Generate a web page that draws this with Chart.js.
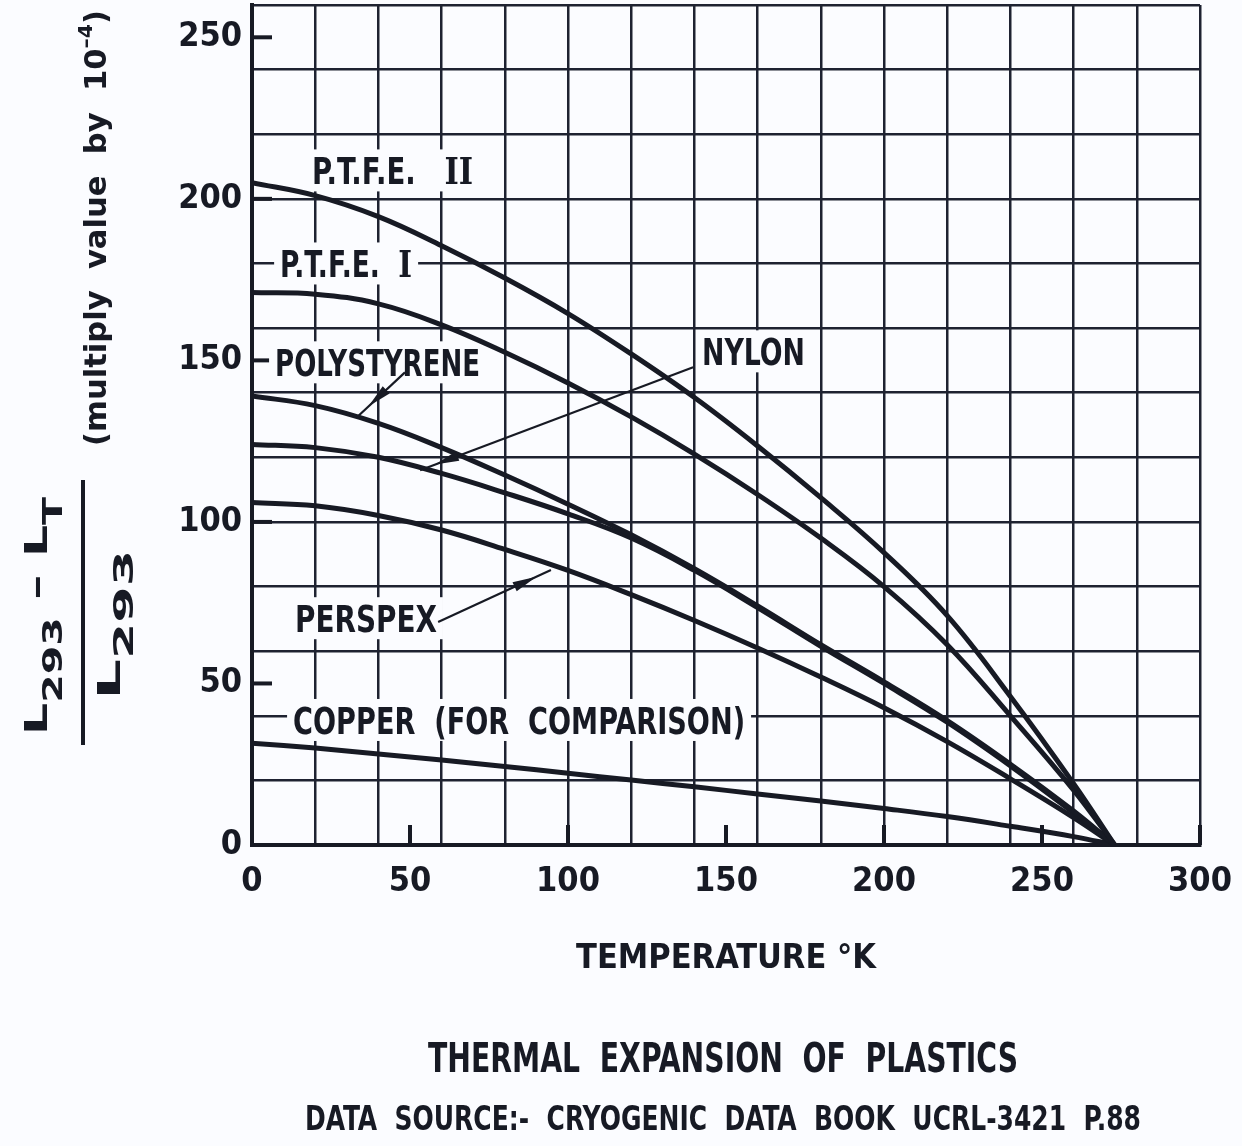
<!DOCTYPE html>
<html>
<head>
<meta charset="utf-8">
<script src="https://cdn.jsdelivr.net/npm/chart.js@4.4.1/dist/chart.umd.min.js"></script>
<style>
    html, body { margin: 0; padding: 0; background: #fbfcff; }
    canvas { display: block; }
</style>
</head>
<body>
<canvas id="graficoExpansao" width="1242" height="1146"></canvas>
<script>
// temperaturas (K) onde as curvas foram lidas
const temperaturas = [0, 20, 40, 60, 80, 100, 120, 140, 160, 180, 200, 220, 240, 260, 273];
// (L293 - LT) / L293, x 10^-4
const ptfe2 = [205, 201, 194.5, 185.5, 175.5, 164.5, 152, 138.5, 123.5, 107.5, 90.5, 71, 46, 19, 0];
const ptfe1 = [171, 170.5, 167.5, 161, 152.5, 143, 132.5, 121, 108.5, 95, 80, 62, 40, 17, 0];
const poliestireno = [139, 136, 130.5, 123, 114.5, 105.5, 96, 85.5, 74, 62, 50.5, 38.5, 25, 10.5, 0];
const nylon = [124, 123, 120, 115, 109, 102.5, 95, 85, 73.5, 61.5, 50, 38, 24.5, 10, 0];
const perspex = [106, 105, 102, 97.5, 91.5, 85, 77.5, 69.5, 61, 52, 42.5, 32, 20.5, 8.5, 0];
const cobre = [31.5, 30, 28.2, 26.3, 24.3, 22.2, 20.1, 18, 15.8, 13.6, 11.3, 8.8, 5.8, 2.6, 0];

const xRotulos = [0, 50, 100, 150, 200, 250, 300];
const yRotulos = [0, 50, 100, 150, 200, 250];

const FONTE = '"DejaVu Sans Condensed", "DejaVu Sans", sans-serif';
const SERIF = '"DejaVu Serif", "Liberation Serif", serif';
const TINTA = '#171a24';
const GRADE = '#1e2231';
const FUNDO = '#fbfcff';

// textos das curvas (posição em coordenadas do gráfico: t, valor no centro da letra)
const notas = [
    { partes: [{ txt: 'P.T.F.E.   ' }, { txt: 'II', serif: true }], t: 19, v: 208.8, largura: 161 },
    { partes: [{ txt: 'P.T.F.E.  ' }, { txt: 'I', serif: true }], t: 8.9, v: 180, largura: 132 },
    { partes: [{ txt: 'POLYSTYRENE' }], t: 7.3, v: 149.4, largura: 205 },
    { partes: [{ txt: 'NYLON' }], t: 142.4, v: 152.8, largura: 103 },
    { partes: [{ txt: 'PERSPEX' }], t: 13.6, v: 70.2, largura: 142 },
    { partes: [{ txt: 'COPPER  (FOR  COMPARISON)' }], t: 13, v: 38.7, largura: 452 }
];

// setas das notas: de -> para
const setas = [
    { de: [48.4, 146.3], para: [33.2, 132.4] },
    { de: [139.6, 147.9], para: [53.2, 116.0] },
    { de: [58.9, 69.0], para: [94.6, 85.1] }
];

function marcas(max, passo, rotulos) {
    const v = new Set(rotulos);
    for (let i = 0; i <= max; i += passo) v.add(i);
    return [...v].sort((a, b) => a - b).map(value => ({ value }));
}

function desenhaTrechos(ctx, trechos, x, y, largura, girar) {
    let total = 0;
    trechos.forEach(t => {
        ctx.font = 'bold ' + (t.tam || 38) + 'px ' + (t.serif ? SERIF : FONTE);
        t.w = ctx.measureText(t.txt).width;
        total += t.w;
    });
    ctx.save();
    ctx.translate(x, y);
    if (girar) ctx.rotate(-Math.PI / 2);
    ctx.scale(largura / total, 1);
    let pos = 0;
    trechos.forEach(t => {
        ctx.font = 'bold ' + (t.tam || 38) + 'px ' + (t.serif ? SERIF : FONTE);
        ctx.fillText(t.txt, pos, t.dy || 0);
        pos += t.w;
    });
    ctx.restore();
}

const anotacoes = {
    id: 'anotacoes',
    beforeDatasetsDraw(chart) {
        const { ctx, chartArea, scales: { x, y } } = chart;
        ctx.save();
        ctx.fillStyle = TINTA;
        ctx.strokeStyle = TINTA;
        ctx.textBaseline = 'alphabetic';

        // marcas curtas para dentro
        ctx.lineWidth = 4;
        yRotulos.slice(1).forEach(v => {
            const py = y.getPixelForValue(v);
            ctx.beginPath();
            ctx.moveTo(chartArea.left, py);
            ctx.lineTo(chartArea.left + 20, py);
            ctx.stroke();
        });
        xRotulos.slice(1).forEach(v => {
            const px = x.getPixelForValue(v);
            ctx.beginPath();
            ctx.moveTo(px, chartArea.bottom);
            ctx.lineTo(px, chartArea.bottom - 20);
            ctx.stroke();
        });

        notas.forEach(n => {
            const px = x.getPixelForValue(n.t);
            const py = y.getPixelForValue(n.v);
            ctx.fillStyle = FUNDO;
            ctx.fillRect(px - 6, py - 21, n.largura + 12, 42);
            ctx.fillStyle = TINTA;
            desenhaTrechos(ctx, n.partes, px, py + 14, n.largura, false);
        });
        ctx.restore();
    },
    afterDatasetsDraw(chart) {
        const { ctx, scales: { x, y } } = chart;
        ctx.save();
        ctx.strokeStyle = TINTA;
        ctx.fillStyle = TINTA;
        ctx.lineWidth = 2.2;
        setas.forEach(s => {
            const x0 = x.getPixelForValue(s.de[0]), y0 = y.getPixelForValue(s.de[1]);
            const x1 = x.getPixelForValue(s.para[0]), y1 = y.getPixelForValue(s.para[1]);
            ctx.beginPath();
            ctx.moveTo(x0, y0);
            ctx.lineTo(x1, y1);
            ctx.stroke();
            const a = Math.atan2(y1 - y0, x1 - x0);
            const bx = x1 - Math.cos(a) * 40, by = y1 - Math.sin(a) * 40;
            const tx = x1 - Math.cos(a) * 16, ty = y1 - Math.sin(a) * 16;
            ctx.beginPath();
            ctx.moveTo(tx, ty);
            ctx.lineTo(bx - Math.sin(a) * 5, by + Math.cos(a) * 5);
            ctx.lineTo(bx + Math.sin(a) * 5, by - Math.cos(a) * 5);
            ctx.closePath();
            ctx.fill();
        });
        ctx.restore();
    },
    afterDraw(chart) {
        const { ctx } = chart;
        ctx.save();
        ctx.fillStyle = TINTA;
        ctx.textBaseline = 'alphabetic';

        // eixo y: fração girada
        desenhaTrechos(ctx, [
            { txt: 'L', tam: 32 }, { txt: '293', tam: 26, dy: 15 }, { txt: ' – ', tam: 32 },
            { txt: 'L', tam: 32 }, { txt: 'T', tam: 26, dy: 15 }
        ], 47, 735, 238, true);
        ctx.fillRect(81, 480, 4, 265);
        desenhaTrechos(ctx, [{ txt: 'L', tam: 32 }, { txt: '293', tam: 26, dy: 13 }], 120, 700, 150, true);
        desenhaTrechos(ctx, [
            { txt: '(multiply  value  by  10', tam: 30 }, { txt: '–4', tam: 20, dy: -14 }, { txt: ')', tam: 30 }
        ], 106, 446, 436, true);

        // títulos de baixo
        desenhaTrechos(ctx, [{ txt: 'THERMAL  EXPANSION  OF  PLASTICS', tam: 40 }], 428, 1072, 590, false);
        desenhaTrechos(ctx, [{ txt: 'DATA  SOURCE:-  CRYOGENIC  DATA  BOOK  UCRL-3421  P.88', tam: 33 }], 305, 1130, 836, false);
        ctx.restore();
    }
};

function serie(valores) {
    return temperaturas.map((t, i) => ({ x: t, y: valores[i] }));
}

const fonteTicks = { family: FONTE, size: 34, weight: 'bold', lineHeight: 1 };

document.addEventListener('DOMContentLoaded', function () {
    const ctx = document.getElementById('graficoExpansao').getContext('2d');

    new Chart(ctx, {
        type: 'line',
        data: {
            datasets: [
                { label: 'P.T.F.E. II', data: serie(ptfe2) },
                { label: 'P.T.F.E. I', data: serie(ptfe1) },
                { label: 'Polystyrene', data: serie(poliestireno) },
                { label: 'Nylon', data: serie(nylon) },
                { label: 'Perspex', data: serie(perspex) },
                { label: 'Copper', data: serie(cobre) }
            ]
        },
        options: {
            responsive: false,
            animation: false,
            layout: { padding: { top: 5, right: 42, bottom: 156, left: 0 } },
            elements: {
                point: { radius: 0 },
                line: { borderWidth: 5, borderColor: TINTA, tension: 0.4, fill: false }
            },
            plugins: {
                legend: { display: false },
                tooltip: { enabled: false }
            },
            scales: {
                x: {
                    type: 'linear',
                    min: 0,
                    max: 300,
                    afterBuildTicks: s => { s.ticks = marcas(300, 20, xRotulos); },
                    afterFit: s => { s.height = 145; s.paddingLeft = 0; s.paddingRight = 0; },
                    grid: {
                        drawTicks: false,
                        color: c => (c.tick && c.tick.value % 20 === 0) ? GRADE : 'rgba(0,0,0,0)',
                        lineWidth: c => (c.tick && c.tick.value % 20 === 0) ? 2.5 : 0
                    },
                    border: { display: true, color: TINTA, width: 4 },
                    ticks: {
                        autoSkip: false,
                        maxRotation: 0,
                        padding: 20,
                        color: TINTA,
                        font: fonteTicks,
                        callback: v => xRotulos.includes(v) ? String(v) : ''
                    },
                    title: {
                        display: true,
                        text: 'TEMPERATURE °K',
                        color: TINTA,
                        font: { family: FONTE, size: 34, weight: 'bold', lineHeight: 1 },
                        padding: { top: 0, bottom: 14 }
                    }
                },
                y: {
                    type: 'linear',
                    min: 0,
                    max: 260,
                    afterBuildTicks: s => { s.ticks = marcas(260, 20, yRotulos); },
                    afterFit: s => { s.width = 252; s.paddingTop = 0; s.paddingBottom = 0; },
                    grid: {
                        drawTicks: false,
                        color: c => (c.tick && c.tick.value % 20 === 0) ? GRADE : 'rgba(0,0,0,0)',
                        lineWidth: c => (c.tick && c.tick.value % 20 === 0) ? 2.5 : 0
                    },
                    border: { display: true, color: TINTA, width: 4 },
                    ticks: {
                        autoSkip: false,
                        padding: 10,
                        color: TINTA,
                        font: fonteTicks,
                        callback: v => yRotulos.includes(v) ? String(v) : ''
                    }
                }
            }
        },
        plugins: [anotacoes]
    });
});
</script>
</body>
</html>
